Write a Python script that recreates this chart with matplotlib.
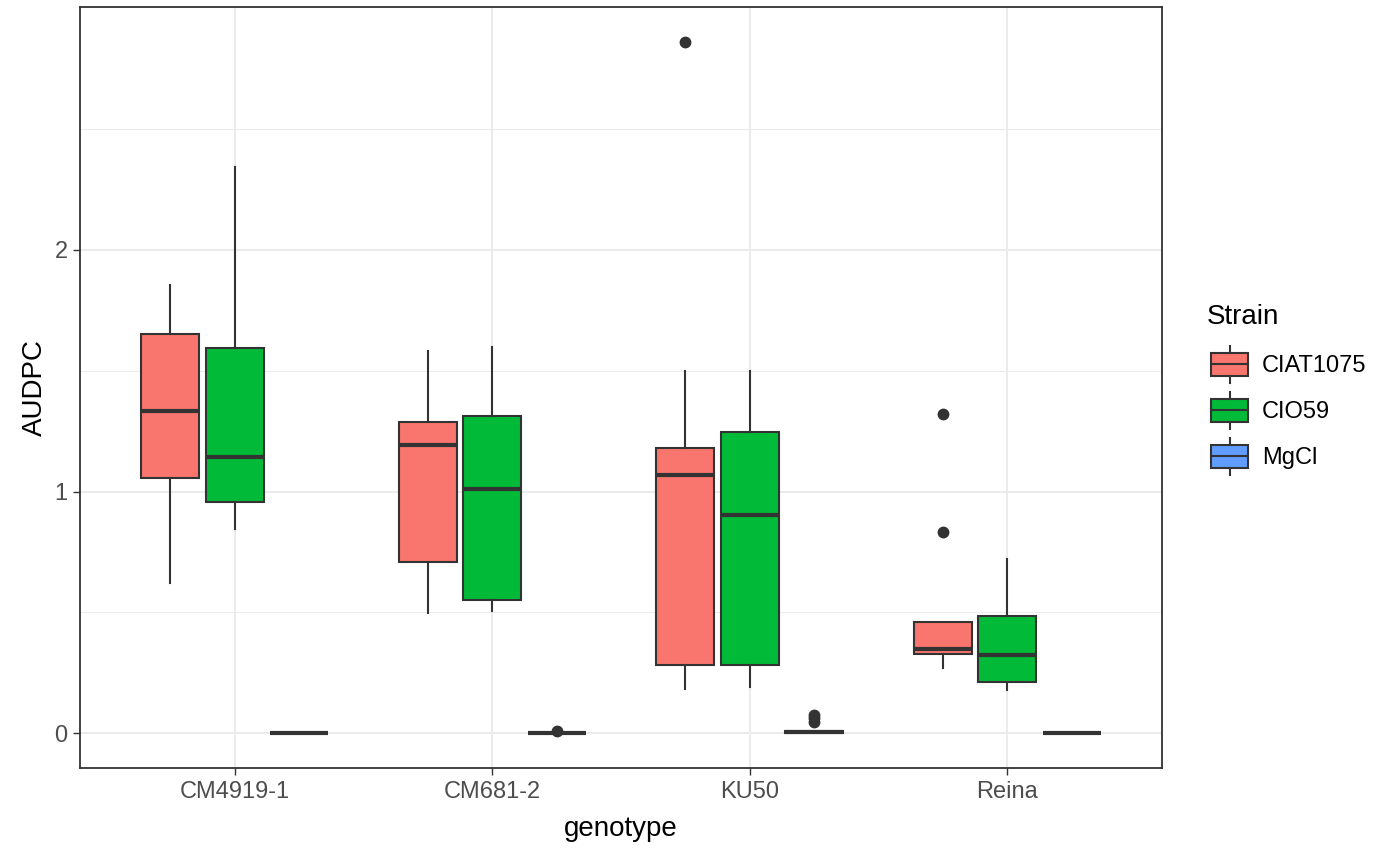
import matplotlib
matplotlib.use("Agg")
import matplotlib.pyplot as plt
from matplotlib.patches import Rectangle
from matplotlib.lines import Line2D
from matplotlib.legend_handler import HandlerBase

plt.rcParams['font.family'] = ['Liberation Sans', 'DejaVu Sans']

# data
genotypes = ['CM4919-1', 'CM681-2', 'KU50', 'Reina']
strains = ['CIAT1075', 'CIO59', 'MgCl']
colors = ['#F8766D', '#00BA38', '#619CFF']

ciat_whislo = [0.623, 0.499, 0.185, 0.270]
ciat_q1 = [1.055, 0.708, 0.281, 0.329]
ciat_med = [1.333, 1.191, 1.069, 0.351]
ciat_q3 = [1.653, 1.288, 1.180, 0.461]
ciat_whishi = [1.852, 1.580, 1.497, 0.461]
ciat_fliers = [[], [], [2.860], [0.832, 1.321]]

cio_whislo = [0.847, 0.508, 0.193, 0.178]
cio_q1 = [0.957, 0.551, 0.281, 0.212]
cio_med = [1.143, 1.011, 0.904, 0.324]
cio_q3 = [1.594, 1.314, 1.248, 0.485]
cio_whishi = [2.342, 1.598, 1.497, 0.719]
cio_fliers = [[], [], [], []]

mgcl_whislo = [0.0, 0.0, 0.0, 0.0]
mgcl_q1 = [0.0, 0.0, 0.0, 0.0]
mgcl_med = [0.0, 0.0, 0.004, 0.0]
mgcl_q3 = [0.0, 0.0, 0.012, 0.0]
mgcl_whishi = [0.0, 0.0, 0.012, 0.0]
mgcl_fliers = [[], [0.008], [0.048, 0.062, 0.078], []]

series = [
    (ciat_whislo, ciat_q1, ciat_med, ciat_q3, ciat_whishi, ciat_fliers),
    (cio_whislo, cio_q1, cio_med, cio_q3, cio_whishi, cio_fliers),
    (mgcl_whislo, mgcl_q1, mgcl_med, mgcl_q3, mgcl_whishi, mgcl_fliers),
]

EDGE = '#333333'
GRID = '#EBEBEB'

fig = plt.figure(figsize=(13.81, 8.48), dpi=100)
ax = fig.add_axes([80 / 1381, 80 / 848, 1082 / 1381, 761 / 848])

offsets = [-0.25, 0.0, 0.25]
for k, (wlo, q1, med, q3, whi, fl) in enumerate(series):
    stats = []
    for i in range(len(genotypes)):
        stats.append(dict(whislo=wlo[i], q1=q1[i], med=med[i], q3=q3[i],
                          whishi=whi[i], fliers=fl[i]))
    pos = [i + offsets[k] for i in range(len(genotypes))]
    ax.bxp(stats, positions=pos, widths=0.225, patch_artist=True,
           showcaps=False, manage_ticks=False,
           boxprops=dict(facecolor=colors[k], edgecolor=EDGE, linewidth=1.5),
           medianprops=dict(color=EDGE, linewidth=3.0, solid_capstyle='butt'),
           whiskerprops=dict(color=EDGE, linewidth=1.5),
           flierprops=dict(marker='o', markerfacecolor=EDGE,
                           markeredgecolor=EDGE, markersize=7.5, linestyle='none'),
           zorder=3)

ax.set_xlim(-0.6, 3.6)
ax.set_ylim(-0.143, 3.003)
ax.set_xticks(range(len(genotypes)))
ax.set_xticklabels(genotypes)
ax.set_yticks([0, 1, 2])
ax.set_yticks([0.5, 1.5, 2.5], minor=True)
ax.grid(True, which='major', color=GRID, linewidth=1.4, zorder=0)
ax.grid(True, which='minor', axis='y', color=GRID, linewidth=0.7, zorder=0)
ax.set_axisbelow(True)
ax.tick_params(axis='both', which='major', length=5, width=1.0, color=EDGE,
               labelcolor='#4D4D4D', labelsize=17, pad=4)
ax.tick_params(axis='both', which='minor', length=0)
for sp in ax.spines.values():
    sp.set_color(EDGE)
    sp.set_linewidth(1.3)
ax.set_xlabel('genotype', fontsize=20, labelpad=10)
ax.set_ylabel('AUDPC', fontsize=20, labelpad=4.5)


class BoxKey(HandlerBase):
    def create_artists(self, legend, orig_handle, xdescent, ydescent,
                       width, height, fontsize, trans):
        x0, y0 = -xdescent, -ydescent
        fc = orig_handle.get_facecolor()
        xm = x0 + width / 2
        rect = Rectangle((x0 + width * 0.1, y0 + height * 0.25), width * 0.8,
                         height * 0.5, facecolor=fc, edgecolor=EDGE,
                         linewidth=1.5, transform=trans)
        med = Line2D([x0 + width * 0.1, x0 + width * 0.9], [y0 + height / 2] * 2,
                     color=EDGE, linewidth=1.5, transform=trans)
        wt = Line2D([xm, xm], [y0 + height * 0.75, y0 + height * 0.9],
                    color=EDGE, linewidth=1.5, transform=trans)
        wb = Line2D([xm, xm], [y0 + height * 0.1, y0 + height * 0.25],
                    color=EDGE, linewidth=1.5, transform=trans)
        return [rect, med, wt, wb]


handles = [Rectangle((0, 0), 1, 1, facecolor=c) for c in colors]
leg = fig.legend(handles, strains, title='Strain', loc='upper left',
                 bbox_to_anchor=(1190 / 1381, 1 - 287 / 848),
                 frameon=False, fontsize=17, title_fontsize=20,
                 handler_map={Rectangle: BoxKey()},
                 handlelength=1.95, handleheight=2.62, labelspacing=0.0,
                 handletextpad=0.4, borderpad=0.2, alignment='left')
# gap between legend title and keys
leg._legend_box.sep = 8.6

fig.savefig('out.png', dpi=100)
